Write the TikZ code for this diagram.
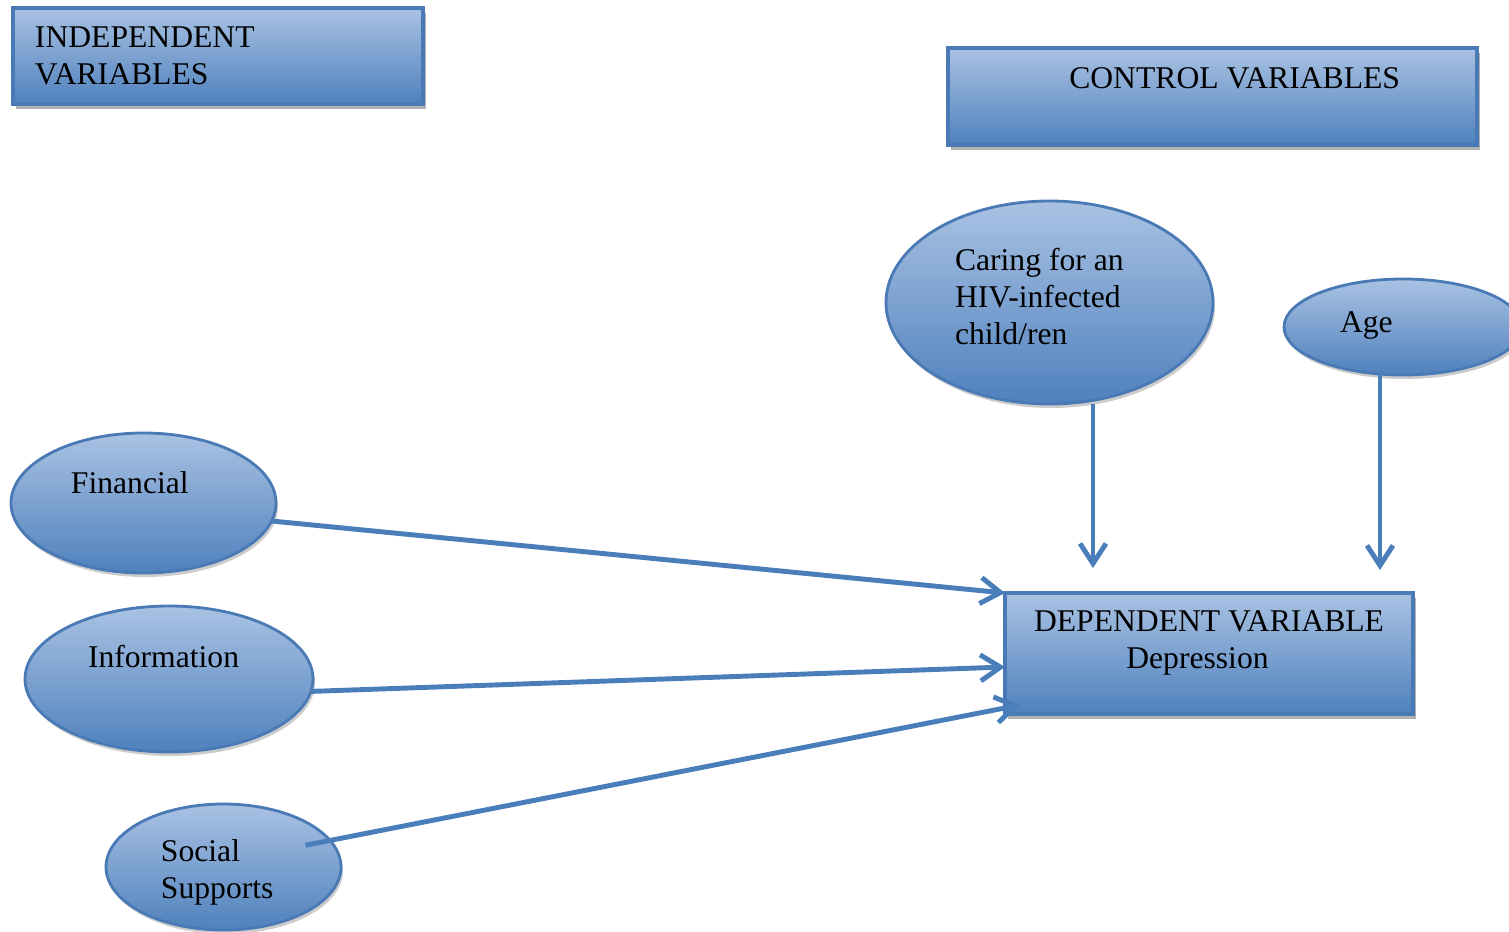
\documentclass[tikz,border=0pt]{standalone}
\usepackage{fontspec}
\setmainfont{Liberation Serif}
\usetikzlibrary{positioning,arrows.meta,shapes.geometric,shadows}
\definecolor{paleBlue}{HTML}{A9C2E3}
\definecolor{deepBlue}{HTML}{4F81BD}
\definecolor{edgeBlue}{HTML}{4A7AB5}
\definecolor{lineBlue}{HTML}{4A7EBB}

\begin{document}
\begin{tikzpicture}[
    varBox/.style={rectangle, draw=edgeBlue, line width=0.9pt, top color=paleBlue, bottom color=deepBlue, font=\fontsize{9}{10.5}\selectfont, inner sep=0pt, outer sep=0pt, drop shadow={shadow xshift=0.03cm, shadow yshift=-0.05cm, opacity=0.3, fill=black}},
    factorOval/.style={ellipse, draw=edgeBlue, line width=0.8pt, top color=paleBlue, bottom color=deepBlue, font=\fontsize{9}{10.5}\selectfont, inner sep=0pt, outer sep=0pt, align=flush left, drop shadow={shadow xshift=0.02cm, shadow yshift=-0.04cm, opacity=0.2, fill=black}},
    arrowStyle/.style={-{Straight Barb[length=2mm,width=2.6mm]}, line width=1.4pt, draw=lineBlue}
]
    \useasboundingbox (0, 0) rectangle (15.09, 9.31);

    % headings
    \node[varBox, minimum width=4.10cm, minimum height=0.96cm, text width=3.66cm, align=flush left] (indep) at (2.18, 8.75) {INDEPENDENT\\VARIABLES};
    \node[varBox, minimum width=5.29cm, minimum height=0.97cm, text width=3.75cm, align=flush right, text height=0.22cm, text depth=0.39cm] (ctrl) at (12.125, 8.345) {CONTROL VARIABLES};

    % control variables
    \node[factorOval, minimum width=3.27cm, minimum height=2.03cm, text width=1.89cm] (care) at (10.495, 6.285) {Caring for an\\HIV-infected\\child/ren\rule[-0.13cm]{0pt}{0pt}};
    \node[factorOval, minimum width=2.38cm, minimum height=0.96cm, text width=1.26cm, text height=0.22cm, text depth=0.12cm] (age) at (14.03, 6.04) {Age};

    % independent variables
    \node[factorOval, minimum width=2.65cm, minimum height=1.40cm, text width=1.45cm, text height=0.22cm, text depth=0.42cm] (fin) at (1.435, 4.28) {Financial};
    \node[factorOval, minimum width=2.88cm, minimum height=1.46cm, text width=1.62cm, text height=0.22cm, text depth=0.46cm] (info) at (1.69, 2.52) {Information};
    \node[factorOval, minimum width=2.35cm, minimum height=1.26cm, text width=1.25cm] (soc) at (2.235, 0.64) {\rule{0pt}{0.32cm}Social\\Supports};

    % dependent variable
    \node[varBox, minimum width=4.08cm, minimum height=1.21cm, align=center] (dep) at (12.09, 2.775) {DEPENDENT VARIABLE\\Depression\hspace*{0.23cm}\rule[-0.28cm]{0pt}{0pt}};

    \draw[arrowStyle] (fin.-8) -- (dep.north west);
    \draw[arrowStyle] (info.-5) -- ([yshift=-1.35mm]dep.west);
    \draw[arrowStyle, shorten <=-2.5mm] (soc.14) -- ([shift={(1.5mm,0.9mm)}]dep.south west);
    \draw[arrowStyle, shorten >=2.5mm] ([xshift=4.35mm]care.south) -- ([xshift=4.35mm]care.south |- dep.north);
    \draw[arrowStyle, shorten >=2.3mm] ([xshift=-2.3mm]age.south) -- ([xshift=-2.3mm]age.south |- dep.north);
\end{tikzpicture}
\end{document}
